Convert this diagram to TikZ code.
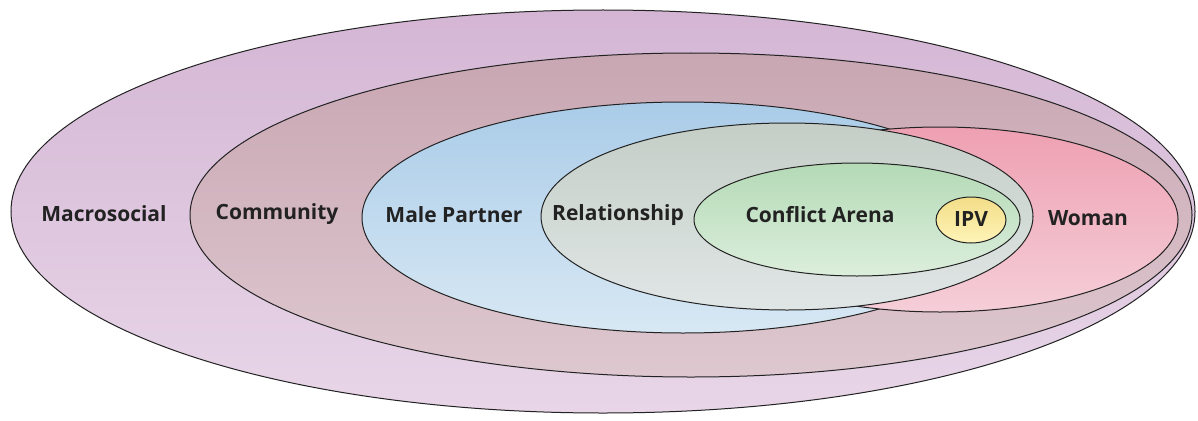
\documentclass[tikz,border=0pt]{standalone}
\usepackage{fontspec}
\setmainfont{Open Sans}
\usetikzlibrary{shapes.geometric}
\definecolor{macroT}{HTML}{D4B6D4}\definecolor{macroB}{HTML}{E8D6E8}
\definecolor{commT}{HTML}{C8A6B2}\definecolor{commB}{HTML}{DEC8D0}
\definecolor{maleT}{HTML}{AACCE8}\definecolor{maleB}{HTML}{D8E8F4}
\definecolor{womanT}{HTML}{EEA0B2}\definecolor{womanB}{HTML}{F5CED8}
\definecolor{relT}{HTML}{C4CEC6}\definecolor{relB}{HTML}{E0E6E6}
\definecolor{confT}{HTML}{B4DAB6}\definecolor{confB}{HTML}{DCEEDC}
\definecolor{ipvT}{HTML}{F2DE88}\definecolor{ipvB}{HTML}{FFF4B8}
\definecolor{ink}{HTML}{222222}
\begin{document}
\begin{tikzpicture}[x=1pt,y=-1pt,
  zone/.style={ellipse, draw=ink, line width=1pt, inner sep=0pt},
  lbl/.style={font=\bfseries\fontsize{21}{24}\selectfont, text=ink, inner sep=0pt}]
\fill[white] (0,0) rectangle (1198,420);
\useasboundingbox (0,0) rectangle (1198,420);
\node[zone, minimum width=1184pt, minimum height=403pt, top color=macroT, bottom color=macroB] (macro) at (603,211.5) {};
\node[zone, minimum width=1002pt, minimum height=324pt, top color=commT, bottom color=commB] (comm) at (691,215) {};
\node[zone, minimum width=642pt, minimum height=231pt, top color=maleT, bottom color=maleB] (male) at (683,217.5) {};
\node[zone, minimum width=476pt, minimum height=185pt, top color=womanT, bottom color=womanB] (woman) at (940,219.5) {};
\node[zone, minimum width=492pt, minimum height=187pt, top color=relT, bottom color=relB] (rel) at (787,216.5) {};
\node[zone, minimum width=326pt, minimum height=113pt, top color=confT, bottom color=confB] (conf) at (857,219.5) {};
\node[zone, minimum width=70pt, minimum height=46pt, top color=ipvT, bottom color=ipvB] (ipv) at (971,220) {};
\node[lbl] (tmacro) at (104,214) {Macrosocial};
\node[lbl] (tcomm) at (277,214) {Community};
\node[lbl] (tmale) at (454,215) {Male Partner};
\node[lbl] (trel) at (618,215) {Relationship};
\node[lbl] (tconf) at (820,215) {Conflict Arena};
\node[lbl] (tipv) at (971,219) {IPV};
\node[lbl] (twoman) at (1088,218) {Woman};
\end{tikzpicture}
\end{document}
